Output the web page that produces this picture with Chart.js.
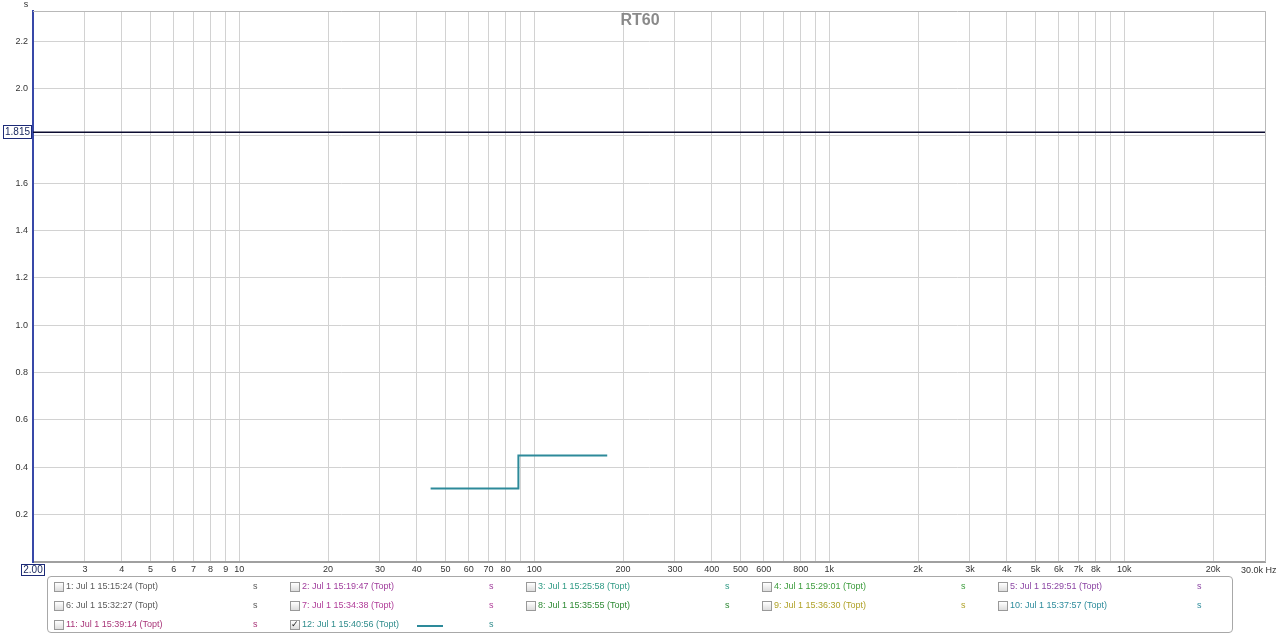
<!DOCTYPE html>
<html>
<head>
<meta charset="utf-8">
<script src="https://cdn.jsdelivr.net/npm/chart.js@4"></script>
<style>
  body { margin: 0; background: #fff; font-family: "Liberation Sans", Arial, sans-serif; }
  #wrap { position: relative; width: 1280px; height: 636px; }
  #legend { position: absolute; left: 47px; top: 576px; width: 1186px; height: 57px;
    border: 1px solid #a8a8a8; border-radius: 4px; box-sizing: border-box; }
  .item { position: absolute; font-size: 9px; white-space: nowrap; }
  .item .cb { position: absolute; left: 0; top: 0; width: 10px; height: 10px; border: 1px solid #999;
    background: linear-gradient(#fff, #ddd); box-sizing: border-box; }
  .item .lbl { position: absolute; left: 12px; top: -1px; }
  .item .sw { position: absolute; left: 127px; top: 5px; width: 26px; height: 2px; }
  .item .unit { position: absolute; left: 199px; top: -1px; }
</style>
</head>
<body>
<div id="wrap">
  <canvas id="c" width="1280" height="636"></canvas>
  <div id="legend"></div>
</div>
<script>
// octave band data (RT60, Topt)
const bandCenters = [63, 125];
const rt60 = [0.31, 0.45];
const markerLevel = 1.815;

const xTicks = [2,3,4,5,6,7,8,9,10,20,30,40,50,60,70,80,90,100,200,300,400,500,600,700,800,900,
  1000,2000,3000,4000,5000,6000,7000,8000,9000,10000,20000,30000];
const xLabels = {3:'3',4:'4',5:'5',6:'6',7:'7',8:'8',9:'9',10:'10',20:'20',30:'30',40:'40',50:'50',
  60:'60',70:'70',80:'80',100:'100',200:'200',300:'300',400:'400',500:'500',600:'600',800:'800',
  1000:'1k',2000:'2k',3000:'3k',4000:'4k',5000:'5k',6000:'6k',7000:'7k',8000:'8k',10000:'10k',20000:'20k'};
const yTicks = [0.2,0.4,0.6,0.8,1.0,1.2,1.4,1.6,1.8,2.0,2.2];

const measurements = ['1: Jul 1 15:15:24 (Topt)','2: Jul 1 15:19:47 (Topt)','3: Jul 1 15:25:58 (Topt)',
  '4: Jul 1 15:29:01 (Topt)','5: Jul 1 15:29:51 (Topt)','6: Jul 1 15:32:27 (Topt)','7: Jul 1 15:34:38 (Topt)',
  '8: Jul 1 15:35:55 (Topt)','9: Jul 1 15:36:30 (Topt)','10: Jul 1 15:37:57 (Topt)',
  '11: Jul 1 15:39:14 (Topt)','12: Jul 1 15:40:56 (Topt)'];
const measColors = ['#5a5a5a','#a03c9c','#2f9a84','#3c9c3c','#8c46a4','#5a5a5a','#b03c98',
  '#2e8a34','#b0a228','#2e8c9c','#a83478','#2f8c8c'];

// step points: lower band edge for each band, plus the top edge of the last band
const stepPts = bandCenters.map((c, i) => ({ x: c / Math.SQRT2, y: rt60[i] }));
stepPts.push({ x: bandCenters[bandCenters.length - 1] * Math.SQRT2, y: rt60[rt60.length - 1] });

const extras = {
  id: 'extras',
  afterDraw(chart) {
    const { ctx, chartArea: a, scales } = chart;
    ctx.save();
    // title
    ctx.font = 'bold 16px "Liberation Sans", Arial';
    ctx.fillStyle = '#8a8a8a';
    ctx.textAlign = 'center'; ctx.textBaseline = 'middle';
    ctx.fillText('RT60', 640, 21);
    // unit
    ctx.font = '9px "Liberation Sans", Arial';
    ctx.fillStyle = '#333';
    ctx.fillText('s', 26, 5);
    // top + right frame
    ctx.strokeStyle = '#b8b8b8'; ctx.lineWidth = 1;
    ctx.beginPath(); ctx.moveTo(a.left, a.top + 0.5); ctx.lineTo(a.right + 0.5, a.top + 0.5);
    ctx.lineTo(a.right + 0.5, a.bottom); ctx.stroke();
    // marker box
    const my = Math.round(scales.y.getPixelForValue(markerLevel));
    ctx.fillStyle = '#fff'; ctx.fillRect(3.5, my - 6.5, 28, 13);
    ctx.strokeStyle = '#1c2a78'; ctx.strokeRect(3.5, my - 6.5, 28, 13);
    ctx.fillStyle = '#1c2a60'; ctx.font = '10px "Liberation Sans", Arial';
    ctx.textAlign = 'center'; ctx.fillText(markerLevel.toFixed(3), 17.5, my + 0.5);
    // x start box
    ctx.fillStyle = '#fff'; ctx.fillRect(21.5, 564.5, 23, 11);
    ctx.strokeStyle = '#1c2a78'; ctx.strokeRect(21.5, 564.5, 23, 11);
    ctx.fillStyle = '#1c2a60'; ctx.fillText('2.00', 33, 570.5);
    // x end label
    ctx.fillStyle = '#333'; ctx.textAlign = 'left'; ctx.font = '9px "Liberation Sans", Arial';
    ctx.fillText('30.0k Hz', 1241, 570.5);
    ctx.restore();
  }
};

new Chart(document.getElementById('c'), {
  type: 'line',
  data: {
    datasets: [
      {
        data: [{ x: 2, y: markerLevel }, { x: 30000, y: markerLevel }],
        borderColor: '#0c0c30', borderWidth: 1.3, pointRadius: 0
      },
      {
        data: stepPts, stepped: 'before',
        borderColor: '#2d8a9a', borderWidth: 2, pointRadius: 0
      }
    ]
  },
  plugins: [extras],
  options: {
    responsive: false, animation: false,
    layout: { padding: { top: 11, right: 15 } },
    plugins: { legend: { display: false }, tooltip: { enabled: false } },
    scales: {
      x: {
        type: 'logarithmic', min: 2, max: 30000,
        afterBuildTicks: s => { s.ticks = xTicks.map(v => ({ value: v })); },
        afterFit: s => { s.height = 74; },
        ticks: {
          autoSkip: false, maxRotation: 0, padding: 2,
          font: { size: 9, family: '"Liberation Sans", Arial' }, color: '#333',
          callback: v => xLabels[v] || ''
        },
        grid: { color: '#d2d2d2', drawTicks: false },
        border: { color: '#a0a0a0', width: 2 }
      },
      y: {
        min: 0, max: 2.327,
        afterBuildTicks: s => { s.ticks = yTicks.map(v => ({ value: v })); },
        afterFit: s => { s.width = 33; },
        ticks: {
          padding: 5,
          font: { size: 9, family: '"Liberation Sans", Arial' }, color: '#333',
          callback: v => v.toFixed(1)
        },
        grid: { color: '#d2d2d2', drawTicks: false },
        border: { color: '#3848a8', width: 2 }
      }
    }
  }
});

// legend
const leg = document.getElementById('legend');
measurements.forEach((name, i) => {
  const row = Math.floor(i / 5), col = i % 5;
  const d = document.createElement('div');
  d.className = 'item';
  d.style.left = (6 + col * 236) + 'px';
  d.style.top = (5 + row * 19) + 'px';
  d.style.color = measColors[i];
  const checked = i === 11;
  d.innerHTML = '<div class="cb"></div><span class="lbl"></span>' +
    (checked ? '<div class="sw"></div>' : '') + '<span class="unit">s</span>';
  d.querySelector('.lbl').textContent = name;
  if (checked) {
    d.querySelector('.cb').innerHTML = '<span style="position:absolute;left:0;top:-2px;font-size:9px;color:#222">&#10003;</span>';
    d.querySelector('.sw').style.background = '#2d8a9a';
  }
  leg.appendChild(d);
});
</script>
</body>
</html>
